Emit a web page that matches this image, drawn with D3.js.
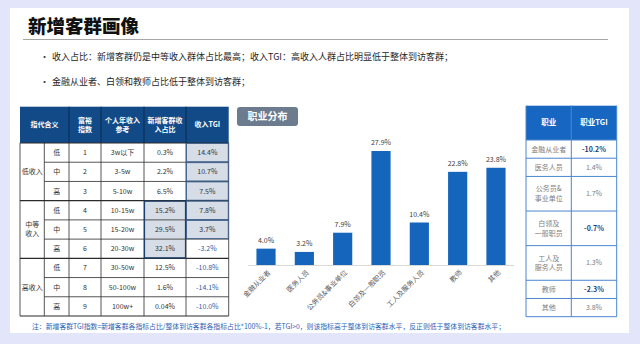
<!DOCTYPE html>
<html><head><meta charset="utf-8">
<script src="https://cdn.jsdelivr.net/npm/d3@7"></script>
<style>
html,body{margin:0;padding:0;background:#e3e6fb;}
svg{display:block;font-family:"Noto Sans CJK SC","Noto Sans",sans-serif;}
</style></head><body>
<svg id="c" width="640" height="344"></svg>
<script>
// ---------- data ----------
const titleText = "新增客群画像";
const bullets = [
  "收入占比：新增客群仍是中等收入群体占比最高；收入TGI：高收入人群占比明显低于整体到访客群；",
  "金融从业者、白领和教师占比低于整体到访客群；"
];
const footnote = "注：新增客群TGI指数=新增客群各指标占比/整体到访客群各指标占比*100%-1，若TGI>0，则该指标高于整体到访客群水平，反正则低于整体到访客群水平；";

const incomeHeaders = [["指代含义"], ["富裕","指数"], ["个人年收入","参考"], ["新增客群收","入占比"], ["收入TGI"]];
const incomeGroups = [["低收入"], ["中等","收入"], ["高收入"]];
const levels = ["低","中","高","低","中","高","低","中","高"];
const wealthIndex = ["1","2","3","4","5","6","7","8","9"];
const incomeRef = ["3w以下","3-5w","5-10w","10-15w","15-20w","20-30w","30-50w","50-100w","100w+"];
const newShare = ["0.3%","2.2%","6.5%","15.2%","29.5%","32.1%","12.5%","1.6%","0.04%"];
const incomeTGI = [14.4, 10.7, 7.5, 7.8, 3.7, -3.2, -10.8, -14.1, -10.0];

const chartLabel = "职业分布";
const occupations = ["金融从业者","医务人员","公务员&事业单位","白领及一般职员","工人及服务人员","教师","其他"];
const occShare = [4.0, 3.2, 7.9, 27.9, 10.4, 22.8, 23.8];

const occHeaders = ["职业", "职业TGI"];
const occTableNames = [["金融从业者"], ["医务人员"], ["公务员&","事业单位"], ["白领及","一般职员"], ["工人及","服务人员"], ["教师"], ["其他"]];
const occTGI = [-10.2, 1.4, 1.7, -0.7, 1.3, -2.3, 3.8];

// ---------- drawing ----------
const svg = d3.select("#c");
const fmt = v => v.toFixed(1) + "%";

function multiText(g, lines, x, y, lh, attrs) {
  const t = g.append("text").attr("x", x).attr("y", y).attr("text-anchor", "middle");
  Object.entries(attrs || {}).forEach(([k, v]) => t.attr(k, v));
  const off = -(lines.length - 1) / 2 * lh;
  lines.forEach((l, i) => t.append("tspan").attr("x", x).attr("y", y + off + i * lh).attr("dy", "0.35em").text(l));
  return t;
}

// card
svg.append("rect").attr("x", 10).attr("y", 8).attr("width", 619).attr("height", 325).attr("fill", "#fff");

// title
svg.append("text").attr("x", 28).attr("y", 33).attr("font-size", 18.5).attr("font-weight", 900)
  .attr("fill", "#111").text(titleText);
svg.append("line").attr("x1", 23).attr("x2", 608).attr("y1", 39.5).attr("y2", 39.5)
  .attr("stroke", "#a6a6a6").attr("stroke-width", 1.2);

// bullets
bullets.forEach((b, i) => {
  const y = 57 + i * 24.5;
  svg.append("text").attr("x", 40).attr("y", y).attr("dy", "0.35em").attr("font-size", 9).attr("fill", "#333").text("•");
  svg.append("text").attr("x", 52).attr("y", y).attr("dy", "0.35em").attr("font-size", 9).attr("fill", "#262626").text(b);
});

// ---------- left income table ----------
const LT = svg.append("g");
const colEdges = [20, 44.3, 69, 101, 144, 186, 228.7];
const hTop = 106.7, hBot = 143, tBot = 316;
const rowY = d3.scaleBand().domain(d3.range(9)).range([hBot, tBot]);
const navy = "#124a87", light = "#d6dde7", grid = "#2b2b2b";

LT.append("rect").attr("x", colEdges[0]).attr("y", hTop).attr("width", colEdges[6] - colEdges[0]).attr("height", hBot - hTop).attr("fill", navy);
[2, 3, 4, 5].forEach(c => LT.append("line").attr("x1", colEdges[c]).attr("x2", colEdges[c]).attr("y1", hTop).attr("y2", hBot).attr("stroke", "#0a2a4e").attr("stroke-width", 1));
const hCenters = [(colEdges[0] + colEdges[2]) / 2, (colEdges[2] + colEdges[3]) / 2, (colEdges[3] + colEdges[4]) / 2, (colEdges[4] + colEdges[5]) / 2, (colEdges[5] + colEdges[6]) / 2];
incomeHeaders.forEach((h, i) => multiText(LT, h, hCenters[i], (hTop + hBot) / 2, 9.5, {"font-size": 7, "font-weight": 700, "fill": "#fff"}));

d3.range(9).forEach(r => {
  if (incomeTGI[r] > 0) LT.append("rect").attr("x", colEdges[5]).attr("y", rowY(r)).attr("width", colEdges[6] - colEdges[5]).attr("height", rowY.bandwidth()).attr("fill", light);
  if (r >= 3 && r <= 5) LT.append("rect").attr("x", colEdges[4]).attr("y", rowY(r)).attr("width", colEdges[5] - colEdges[4]).attr("height", rowY.bandwidth()).attr("fill", light);
});
d3.range(10).forEach(r => {
  const y = r === 9 ? tBot : rowY(r);
  const full = (r % 3 === 0);
  LT.append("line").attr("x1", full ? colEdges[0] : colEdges[1]).attr("x2", colEdges[6]).attr("y1", y).attr("y2", y)
    .attr("stroke", grid).attr("stroke-width", full ? 1.1 : 0.8);
});
colEdges.forEach((x, c) => LT.append("line").attr("x1", x).attr("x2", x).attr("y1", hBot).attr("y2", tBot).attr("stroke", grid).attr("stroke-width", 0.8));
d3.range(9).forEach(r => {
  if (incomeTGI[r] > 0) LT.append("rect").attr("x", colEdges[5] + 0.5).attr("y", rowY(r) + 0.5).attr("width", colEdges[6] - colEdges[5] - 1).attr("height", rowY.bandwidth() - 1).attr("fill", "none").attr("stroke", "#3a5f8f").attr("stroke-width", 0.8);
});
LT.append("rect").attr("x", colEdges[4] + 0.5).attr("y", rowY(3) + 0.5).attr("width", colEdges[5] - colEdges[4] - 1).attr("height", rowY.bandwidth() * 3 - 1).attr("fill", "none").attr("stroke", "#1d3f6e").attr("stroke-width", 1.2);

const bodyAttr = {"font-size": 7, "fill": "#333"};
incomeGroups.forEach((g, i) => multiText(LT, g, (colEdges[0] + colEdges[1]) / 2, rowY(i * 3) + rowY.bandwidth() * 1.5, 9, bodyAttr));
d3.range(9).forEach(r => {
  const cy = rowY(r) + rowY.bandwidth() / 2;
  const cells = [levels[r], wealthIndex[r], incomeRef[r], newShare[r], fmt(incomeTGI[r])];
  cells.forEach((t, j) => {
    const cx = (colEdges[j + 1] + colEdges[j + 2]) / 2;
    const neg = (j === 4 && incomeTGI[r] < 0);
    LT.append("text").attr("x", cx).attr("y", cy).attr("dy", "0.35em").attr("text-anchor", "middle")
      .attr("font-size", 7).attr("fill", neg ? "#2a5ea8" : "#333").text(t);
  });
});

svg.append("text").attr("x", 32).attr("y", 327).attr("dy", "0.35em").attr("font-size", 6.85)
  .attr("fill", "#2a62b5").text(footnote);

// ---------- bar chart ----------
const BC = svg.append("g");
BC.append("rect").attr("x", 237).attr("y", 107).attr("width", 61).attr("height", 19).attr("rx", 3).attr("fill", "#6d7b8f");
BC.append("text").attr("x", 267.5).attr("y", 116.5).attr("dy", "0.35em").attr("text-anchor", "middle")
  .attr("font-size", 10).attr("font-weight", 700).attr("fill", "#fff").text(chartLabel);

const x = d3.scaleBand().domain(occupations).range([248, 514]).paddingInner(0.5).paddingOuter(0.22);
const y = d3.scaleLinear().domain([0, 27.9]).range([265, 151]);

BC.append("line").attr("x1", 248).attr("x2", 514).attr("y1", y(0) + 0.5).attr("y2", y(0) + 0.5).attr("stroke", "#d9d9d9");
BC.selectAll("rect.bar").data(occShare).join("rect").attr("class", "bar")
  .attr("x", (d, i) => x(occupations[i])).attr("width", x.bandwidth())
  .attr("y", d => y(d)).attr("height", d => y(0) - y(d)).attr("fill", "#1565bd");
BC.selectAll("text.val").data(occShare).join("text").attr("class", "val")
  .attr("x", (d, i) => x(occupations[i]) + x.bandwidth() / 2).attr("y", d => y(d) - 6)
  .attr("text-anchor", "middle").attr("font-size", 7).attr("fill", "#404040").text(d => fmt(d));
BC.selectAll("text.cat").data(occupations).join("text").attr("class", "cat")
  .attr("transform", d => `translate(${x(d) + x.bandwidth() / 2 + 5},${y(0) + 8}) rotate(-45)`)
  .attr("text-anchor", "end").attr("font-size", 7).attr("fill", "#595959").text(d => d);

// ---------- right occupation table ----------
const RT = svg.append("g");
const rx0 = 526, rx1 = 571.3, rx2 = 616.7, rTop = 105.7, rHBot = 140, rBot = 316.7;
const units = occTableNames.map(n => n.length === 1 ? 1 : 1.9);
const cum = [0]; units.forEach(u => cum.push(cum[cum.length - 1] + u));
const ry = d3.scaleLinear().domain([0, cum[cum.length - 1]]).range([rHBot, rBot]);
const blue = "#1666c2", rgrid = "#4a86d0";

RT.append("rect").attr("x", rx0).attr("y", rTop).attr("width", rx2 - rx0).attr("height", rHBot - rTop).attr("fill", blue);
occHeaders.forEach((h, i) => RT.append("text").attr("x", i === 0 ? (rx0 + rx1) / 2 : (rx1 + rx2) / 2).attr("y", (rTop + rHBot) / 2)
  .attr("dy", "0.35em").attr("text-anchor", "middle").attr("font-size", 7.5).attr("font-weight", 700).attr("fill", "#fff").text(h));
cum.forEach(c => RT.append("line").attr("x1", rx0).attr("x2", rx2).attr("y1", ry(c)).attr("y2", ry(c)).attr("stroke", rgrid).attr("stroke-width", 1));
[rx0, rx1, rx2].forEach(xx => RT.append("line").attr("x1", xx).attr("x2", xx).attr("y1", rTop).attr("y2", rBot).attr("stroke", rgrid).attr("stroke-width", 1));
RT.append("line").attr("x1", rx1).attr("x2", rx1).attr("y1", rTop).attr("y2", rHBot).attr("stroke", "#3d7fd0");
occTableNames.forEach((n, i) => {
  const cy = (ry(cum[i]) + ry(cum[i + 1])) / 2;
  multiText(RT, n, (rx0 + rx1) / 2, cy, 9.5, {"font-size": 7, "fill": "#808080"});
  const neg = occTGI[i] < 0;
  RT.append("text").attr("x", (rx1 + rx2) / 2).attr("y", cy).attr("dy", "0.35em").attr("text-anchor", "middle")
    .attr("font-size", 7).attr("font-weight", neg ? 700 : 400).attr("fill", neg ? "#1f3c78" : "#808080").text(fmt(occTGI[i]));
});
</script>
</body></html>
